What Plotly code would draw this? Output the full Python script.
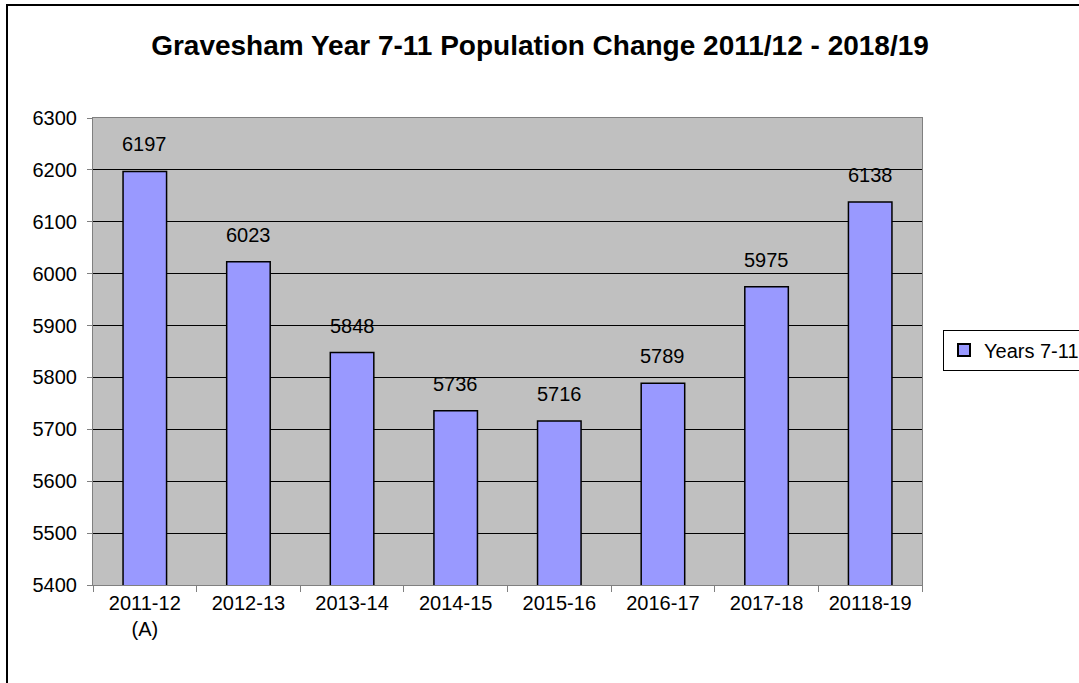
import plotly.graph_objects as go

categories = ["2011-12<br>(A)", "2012-13", "2013-14", "2014-15", "2015-16", "2016-17", "2017-18", "20118-19"]
values = [6197, 6023, 5848, 5736, 5716, 5789, 5975, 6138]
series_name = "Years 7-11"
title_text = "Gravesham Year 7-11 Population Change 2011/12 - 2018/19"
y_ticks = [5400, 5500, 5600, 5700, 5800, 5900, 6000, 6100, 6200, 6300]

W, H = 1079, 683
L, T = 93, 118
pw, ph = 829, 467
R, B = W - L - pw, H - T - ph

def px_x(x):  # screen px -> paper
    return (x - L) / pw

def px_y(y):
    return (T + ph - y) / ph

FONT = "Liberation Sans, Arial"

fig = go.Figure()
fig.add_trace(go.Bar(
    x=categories, y=values, name=series_name,
    marker=dict(color="#9999FF", line=dict(color="black", width=1.5)),
))

for c, v in zip(categories, values):
    fig.add_annotation(x=c, y=v, text=str(v), showarrow=False, yshift=27, yanchor="middle",
                       font=dict(family=FONT, size=20, color="black"))

fig.update_layout(
    width=W, height=H,
    margin=dict(l=L, r=R, t=T, b=B, autoexpand=False),
    paper_bgcolor="white", plot_bgcolor="#C0C0C0",
    bargap=0.58,
    font=dict(family=FONT, size=20, color="black"),
    title=dict(text="<b>" + title_text + "</b>", x=px_x(540), xref="paper", xanchor="center",
               y=1 - 45 / H, yanchor="middle",
               font=dict(family=FONT, size=28, color="black")),
    showlegend=True,
    legend=dict(x=px_x(943), xanchor="left", y=px_y(350), yanchor="middle",
                bordercolor="black", borderwidth=1, bgcolor="white",
                font=dict(size=20), itemsizing="constant", itemwidth=30),
    xaxis=dict(showline=True, linecolor="#808080", linewidth=1, mirror=True,
               ticks="outside", ticklen=6, tickcolor="#808080",
               tickson="boundaries", showgrid=False, tickfont=dict(size=20)),
    yaxis=dict(range=[5400, 6300], tickvals=y_ticks, showgrid=True, gridcolor="black", gridwidth=1,
               showline=True, linecolor="#808080", linewidth=1, mirror=True,
               ticks="outside", ticklen=5, tickcolor="#808080", tickfont=dict(size=20),
               ticklabelstandoff=6, zeroline=False),
    shapes=[dict(type="rect", xref="paper", yref="paper",
                 x0=px_x(7), x1=px_x(1090), y0=px_y(700), y1=px_y(5),
                 line=dict(color="black", width=2), fillcolor="rgba(0,0,0,0)", layer="above")],
)

fig.write_html("out.html", config={"displayModeBar": False},
               post_script="document.body.style.margin='0px';document.body.style.overflow='hidden';")
